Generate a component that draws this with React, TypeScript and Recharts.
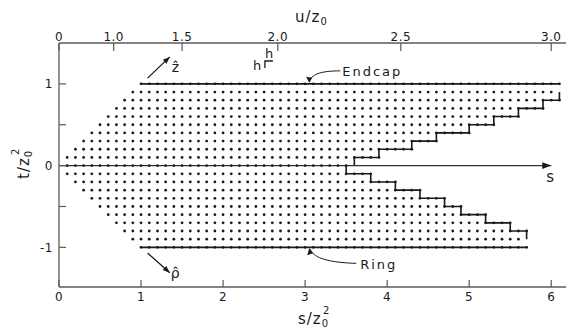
import React from 'react';
import { ComposedChart, Scatter, Line, XAxis, YAxis, ReferenceDot } from 'recharts';

const W = 566;
const H = 331;
const FONT = '"DejaVu Sans", sans-serif';
const INK = '#1a1a1a';
const AXIS = '#5a5a5a';

// mesh pitch in s and t
const STEP = 0.1;

// mesh rows: t/z0^2 and first / last s/z0^2 of the dots on that row
const rowT = [-0.9, -0.8, -0.7, -0.6, -0.5, -0.4, -0.3, -0.2, -0.1, 0, 0.1, 0.2, 0.3, 0.4, 0.5, 0.6, 0.7, 0.8, 0.9];
const rowFirst = [0.9, 0.8, 0.7, 0.6, 0.5, 0.4, 0.3, 0.2, 0.1, 0.1, 0.1, 0.2, 0.3, 0.4, 0.5, 0.6, 0.7, 0.8, 0.9];
const rowLast = [5.6, 5.7, 5.5, 5.2, 4.9, 4.7, 4.4, 4.1, 3.8, 3.5, 3.9, 4.3, 4.6, 5.0, 5.3, 5.6, 5.9, 6.1, 6.0];

// electrodes (t = +1 endcap, t = -1 ring)
const endcapS = [1.0, 6.1];
const ringS = [1.0, 5.7];

// staircase boundaries, step taken before each corner
const upperStairS = [3.6, 3.9, 4.3, 4.6, 5.0, 5.3, 5.6, 5.9, 6.1, 6.1];
const upperStairT = [0, 0.1, 0.2, 0.3, 0.4, 0.5, 0.6, 0.7, 0.8, 0.9];
const lowerStairS = [3.5, 3.8, 4.1, 4.4, 4.7, 4.9, 5.2, 5.5, 5.7, 5.7];
const lowerStairT = [0, -0.1, -0.2, -0.3, -0.4, -0.5, -0.6, -0.7, -0.8, -0.9];

// symmetry axis drawn with arrow
const sAxisS = [0, 6.0];

// unit vector arrows
const zArrow = [{ s: 1.08, t: 1.07 }, { s: 1.35, t: 1.33 }];
const rhoArrow = [{ s: 1.08, t: -1.07 }, { s: 1.35, t: -1.31 }];

const sTicks = [0, 1, 2, 3, 4, 5, 6];
const tTicks = [-1, -0.5, 0, 0.5, 1];
const tLabels = ['-1', '', '0', '', '1'];
const uTicks = [0, 1.0, 1.5, 2.0, 2.5, 3.0];
const uLabels = ['0', '1.0', '1.5', '2.0', '2.5', '3.0'];

const S_DOMAIN: [number, number] = [0, 6.18];
const T_DOMAIN: [number, number] = [-1.485, 1.5];

// s = 2u^2/3 links the top scale to the bottom one
const uToS = (u: number) => (2 * u * u) / 3;
const uTickS = uTicks.map(uToS);

const rowDots = (t: number, a: number, b: number) => {
  const n = Math.round((b - a) / STEP);
  return Array.from({ length: n + 1 }, (_, i) => ({ s: +(a + i * STEP).toFixed(2), t }));
};

const meshDots = rowT
  .flatMap((t, i) => rowDots(t, rowFirst[i], rowLast[i]))
  .concat(rowDots(1, endcapS[0], endcapS[1]), rowDots(-1, ringS[0], ringS[1]));

const endcap = endcapS.map((s) => ({ s, t: 1 }));
const ring = ringS.map((s) => ({ s, t: -1 }));
const upperStair = upperStairS.map((s, i) => ({ s, t: upperStairT[i] }));
const lowerStair = lowerStairS.map((s, i) => ({ s, t: lowerStairT[i] }));
const sAxis = sAxisS.map((s) => ({ s, t: 0 }));

const uLabelFor = (v: number) => {
  const i = uTickS.findIndex((s) => Math.abs(s - v) < 1e-6);
  return i >= 0 ? uLabels[i] : '';
};
const tLabelFor = (v: number) => {
  const i = tTicks.indexOf(v);
  return i >= 0 ? tLabels[i] : '';
};

const tickStyle = { fill: INK, fontSize: 12, fontFamily: FONT, letterSpacing: 0.5 };

// main text with a stacked subscript (and optional superscript above it)
const Title = ({ x, y, main, sub, sup, rotate }: any) => (
  <g transform={rotate ? `rotate(-90 ${x} ${y})` : undefined} fill={INK} fontFamily={FONT}>
    <text x={x} y={y} fontSize={15} letterSpacing={1}>
      {main}
      <tspan fontSize={10} dy={3}>{sub}</tspan>
    </text>
    {sup && (
      <text x={x + (rotate ? 24 : 25)} y={y - 10} fontSize={10}>{sup}</text>
    )}
  </g>
);

const BottomTitle = ({ viewBox }: any) => (
  <Title x={viewBox.x + 239} y={viewBox.y + 37} main="s/z" sub="0" sup="2" />
);
const TopTitle = ({ viewBox }: any) => (
  <Title x={viewBox.x + 236} y={viewBox.y + 22} main="u/z" sub="0" />
);
const LeftTitle = ({ viewBox }: any) => (
  <Title x={viewBox.x + 29} y={viewBox.y + 136} main="t/z" sub="0" sup="2" rotate />
);

const Arrowhead = ({ cx, cy, angle, size = 7 }: any) => (
  <polygon
    points={`0,0 ${-size},${-size * 0.38} ${-size},${size * 0.38}`}
    transform={`translate(${cx} ${cy}) rotate(${angle})`}
    fill={INK}
  />
);

const Note = ({ cx, cy, children }: any) => <g transform={`translate(${cx} ${cy})`}>{children}</g>;

const noteText = { fill: INK, fontFamily: FONT, fontSize: 13, letterSpacing: 2 };

const hidden = { stroke: 'none', dot: false, activeDot: false, isAnimationActive: false } as const;

export default function App() {
  return (
    <div style={{ position: 'absolute', left: 0, top: 0, width: W, height: H, background: '#fff' }}>
      <ComposedChart width={W} height={H} margin={{ top: 0, right: 0, bottom: 0, left: 0 }}>
        <XAxis
          xAxisId="b"
          dataKey="s"
          type="number"
          domain={S_DOMAIN}
          allowDataOverflow
          ticks={sTicks}
          interval={0}
          height={44}
          tickSize={-7}
          tickMargin={12}
          tick={tickStyle}
          axisLine={{ stroke: AXIS, strokeWidth: 1.3 }}
          tickLine={{ stroke: AXIS, strokeWidth: 1.2 }}
          label={<BottomTitle />}
        />
        <XAxis
          xAxisId="top"
          dataKey="s"
          orientation="top"
          type="number"
          domain={S_DOMAIN}
          allowDataOverflow
          ticks={uTickS}
          tickFormatter={uLabelFor}
          interval={0}
          height={43}
          tickSize={-8}
          tickMargin={10}
          tick={tickStyle}
          axisLine={{ stroke: AXIS, strokeWidth: 1.3 }}
          tickLine={{ stroke: AXIS, strokeWidth: 1.2 }}
          label={<TopTitle />}
        />
        <YAxis
          yAxisId="l"
          dataKey="t"
          type="number"
          domain={T_DOMAIN}
          allowDataOverflow
          ticks={tTicks}
          tickFormatter={tLabelFor}
          interval={0}
          width={59}
          tickSize={-7}
          tickMargin={13}
          tick={tickStyle}
          axisLine={{ stroke: AXIS, strokeWidth: 1.3 }}
          tickLine={{ stroke: AXIS, strokeWidth: 1.2 }}
          label={<LeftTitle />}
        />
        <YAxis
          yAxisId="r"
          dataKey="t"
          orientation="right"
          type="number"
          domain={T_DOMAIN}
          allowDataOverflow
          ticks={tTicks}
          interval={0}
          width={0}
          tickSize={-6}
          tick={false}
          axisLine={{ stroke: AXIS, strokeWidth: 1.3 }}
          tickLine={{ stroke: AXIS, strokeWidth: 1.2 }}
        />

        {/* invisible series so the top and right axes get their scales */}
        <Line xAxisId="top" yAxisId="r" data={endcap} dataKey="t" {...hidden} />

        <Line xAxisId="b" yAxisId="l" data={sAxis} dataKey="t" stroke="#333" strokeWidth={1.3} dot={false} activeDot={false} isAnimationActive={false} />
        <Line xAxisId="b" yAxisId="l" data={endcap} dataKey="t" stroke={INK} strokeWidth={1.6} dot={false} activeDot={false} isAnimationActive={false} />
        <Line xAxisId="b" yAxisId="l" data={ring} dataKey="t" stroke={INK} strokeWidth={1.6} dot={false} activeDot={false} isAnimationActive={false} />
        <Line xAxisId="b" yAxisId="l" data={upperStair} dataKey="t" type="stepBefore" stroke={INK} strokeWidth={1.6} dot={false} activeDot={false} isAnimationActive={false} />
        <Line xAxisId="b" yAxisId="l" data={lowerStair} dataKey="t" type="stepBefore" stroke={INK} strokeWidth={1.6} dot={false} activeDot={false} isAnimationActive={false} />
        <Line xAxisId="b" yAxisId="l" data={zArrow} dataKey="t" stroke={INK} strokeWidth={1.3} dot={false} activeDot={false} isAnimationActive={false} />
        <Line xAxisId="b" yAxisId="l" data={rhoArrow} dataKey="t" stroke={INK} strokeWidth={1.3} dot={false} activeDot={false} isAnimationActive={false} />

        <Scatter
          xAxisId="b"
          yAxisId="l"
          data={meshDots}
          isAnimationActive={false}
          shape={(p: any) => <circle cx={p.cx} cy={p.cy} r={1.4} fill={INK} />}
        />

        {/* arrow tips */}
        <ReferenceDot xAxisId="b" yAxisId="l" x={sAxisS[1]} y={0} shape={(p: any) => <Arrowhead cx={p.cx} cy={p.cy} angle={0} size={9} />} />
        <ReferenceDot
          xAxisId="b"
          yAxisId="l"
          x={zArrow[1].s}
          y={zArrow[1].t}
          shape={(p: any) => (
            <g>
              <Arrowhead cx={p.cx} cy={p.cy} angle={-44} />
              <text x={p.cx + 2} y={p.cy + 15} {...noteText} fontSize={14} letterSpacing={0}>ẑ</text>
            </g>
          )}
        />
        <ReferenceDot
          xAxisId="b"
          yAxisId="l"
          x={rhoArrow[1].s}
          y={rhoArrow[1].t}
          shape={(p: any) => (
            <g>
              <Arrowhead cx={p.cx} cy={p.cy} angle={42} />
              <text x={p.cx + 1} y={p.cy + 5} {...noteText} fontSize={14} letterSpacing={0}>ρ̂</text>
            </g>
          )}
        />

        {/* labels with leader arrows */}
        <ReferenceDot
          xAxisId="b"
          yAxisId="l"
          x={3.05}
          y={1}
          shape={(p: any) => (
            <Note cx={p.cx} cy={p.cy}>
              <path d="M0,-2 C2,-9 10,-13 31,-13" fill="none" stroke={INK} strokeWidth={1} />
              <polygon points="0,-1 -3,-7 3,-6" fill={INK} />
              <text x={33} y={-8} {...noteText}>Endcap</text>
            </Note>
          )}
        />
        <ReferenceDot
          xAxisId="b"
          yAxisId="l"
          x={3.05}
          y={-1}
          shape={(p: any) => (
            <Note cx={p.cx} cy={p.cy}>
              <path d="M1,2 C4,9 14,15 47,16" fill="none" stroke={INK} strokeWidth={1} />
              <polygon points="0,1 -2,8 4,6" fill={INK} />
              <text x={51} y={22} {...noteText}>Ring</text>
            </Note>
          )}
        />
        <ReferenceDot
          xAxisId="b"
          yAxisId="l"
          x={6.0}
          y={0}
          shape={(p: any) => (
            <text x={p.cx - 5} y={p.cy + 16} {...noteText} fontSize={15}>s</text>
          )}
        />

        {/* mesh spacing marker */}
        <ReferenceDot
          xAxisId="b"
          yAxisId="l"
          x={2.51}
          y={1.28}
          shape={(p: any) => (
            <Note cx={p.cx} cy={p.cy}>
              <path d="M0,7 V0 H8" fill="none" stroke={INK} strokeWidth={1.3} />
              <text x={-12} y={9} {...noteText} fontSize={13} letterSpacing={0}>h</text>
              <text x={0} y={-3} {...noteText} fontSize={13} letterSpacing={0}>h</text>
            </Note>
          )}
        />
      </ComposedChart>
    </div>
  );
}
